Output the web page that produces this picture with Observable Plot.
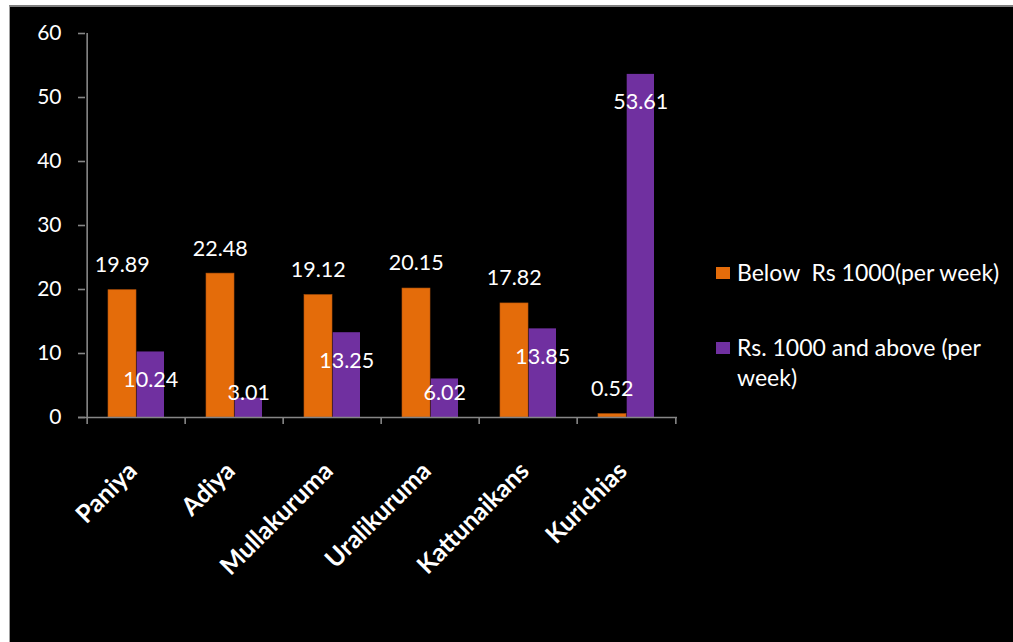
<!DOCTYPE html>
<html>
<head>
<meta charset="utf-8">
<script src="https://cdn.jsdelivr.net/npm/d3@7"></script>
<script src="https://cdn.jsdelivr.net/npm/@observablehq/plot@0.6"></script>
<style>
  html, body { margin: 0; padding: 0; background: #ffffff; }
  body { width: 1013px; height: 642px; position: relative; overflow: hidden; font-family: Lato, "Open Sans", sans-serif; }
  #panel { position: absolute; left: 9px; top: 5px; width: 1010px; height: 640px; background: #000; border-left: 1px solid #a0a0a0; border-top: 2px solid #7f7f7f; }
  #chart { position: absolute; left: 0; top: 0; }
  .legend-item { position: absolute; left: 716px; color: #fff; font-size: 23px; line-height: 30px; }
  .legend-item .sw { position: absolute; left: 0; width: 14px; height: 12px; top: 10px; }
  .legend-item .lbl { position: absolute; left: 21px; top: 0; white-space: pre-wrap; width: 272px; }
</style>
</head>
<body>
<div id="panel"></div>
<div id="chart"></div>
<div id="legend"></div>
<script>
const categories = ["Paniya", "Adiya", "Mullakuruma", "Uralikuruma", "Kattunaikans", "Kurichias"];
const below = [19.89, 22.48, 19.12, 20.15, 17.82, 0.52];
const above = [10.24, 3.01, 13.25, 6.02, 13.85, 53.61];
const seriesNames = ["Below  Rs 1000(per week)", "Rs. 1000 and above (per week)"];
const seriesColors = ["#E46C0A", "#7030A0"];
const yTicks = [0, 10, 20, 30, 40, 50, 60];

const rowsBelow = categories.map((c, i) => ({cat: c, v: below[i]}));
const rowsAbove = categories.map((c, i) => ({cat: c, v: above[i]}));

const W = 700, H = 642;
const mL = 85, mR = 23, mT = 33, mB = 225;
const step = (W - mL - mR) / categories.length;
const axisGray = "#868686";
const font = "Lato, 'Open Sans', sans-serif";

const chart = Plot.plot({
  width: W,
  height: H,
  marginLeft: mL,
  marginRight: mR,
  marginTop: mT,
  marginBottom: mB,
  style: {background: "transparent", color: "#fff", fontFamily: font, overflow: "visible"},
  x: {domain: categories, padding: 0, axis: null},
  y: {domain: [0, 60], axis: null},
  marks: [
    Plot.barY(rowsBelow, {x: "cat", y: "v", fill: seriesColors[0], stroke: "#b8560a", strokeWidth: 0.6, insetLeft: 21, insetRight: 49}),
    Plot.barY(rowsAbove, {x: "cat", y: "v", fill: seriesColors[1], insetLeft: 49.7, insetRight: 21}),
    // y axis line
    Plot.ruleX([categories[0]], {x: d => d, dx: -step / 2, y1: 0, y2: 60, stroke: axisGray, strokeWidth: 1.6}),
    Plot.axisY({ticks: yTicks, tickSize: 7, tickPadding: 17, stroke: axisGray, fill: "#fff", fontSize: 21, fontFamily: font, label: null, strokeWidth: 1.6}),
    // x axis line
    Plot.ruleY([0], {stroke: axisGray, strokeWidth: 1.6, insetLeft: -7}),
    // boundary ticks
    Plot.ruleX(categories, {x: d => d, dx: -step / 2, y1: 0, y2: 0, insetBottom: -7, stroke: axisGray, strokeWidth: 1.6}),
    Plot.ruleX([categories[categories.length - 1]], {x: d => d, dx: step / 2, y1: 0, y2: 0, insetBottom: -7, stroke: axisGray, strokeWidth: 1.6}),
    // category labels
    Plot.text(categories, {x: d => d, frameAnchor: "bottom", dx: 2, dy: 55, rotate: -45, textAnchor: "end", fill: "#fff", fontWeight: "bold", fontSize: 25, fontFamily: font}),
    // value labels
    Plot.text(rowsBelow, {x: "cat", y: "v", text: d => d.v.toFixed(2), dx: -14.2, dy: -25, fill: "#fff", fontSize: 21.5, fontFamily: font}),
    Plot.text(rowsAbove, {x: "cat", y: d => Math.max(d.v - 4.375, 3.75), text: d => d.v.toFixed(2), dx: 14.2, fill: "#fff", fontSize: 21.5, fontFamily: font})
  ]
});
document.getElementById("chart").appendChild(chart);

const legendTops = [257, 332];
const legend = document.getElementById("legend");
seriesNames.forEach((name, i) => {
  const item = document.createElement("div");
  item.className = "legend-item";
  item.style.top = legendTops[i] + "px";
  const sw = document.createElement("div");
  sw.className = "sw";
  sw.style.background = seriesColors[i];
  const lbl = document.createElement("div");
  lbl.className = "lbl";
  lbl.textContent = name;
  item.appendChild(sw);
  item.appendChild(lbl);
  legend.appendChild(item);
});
</script>
</body>
</html>
